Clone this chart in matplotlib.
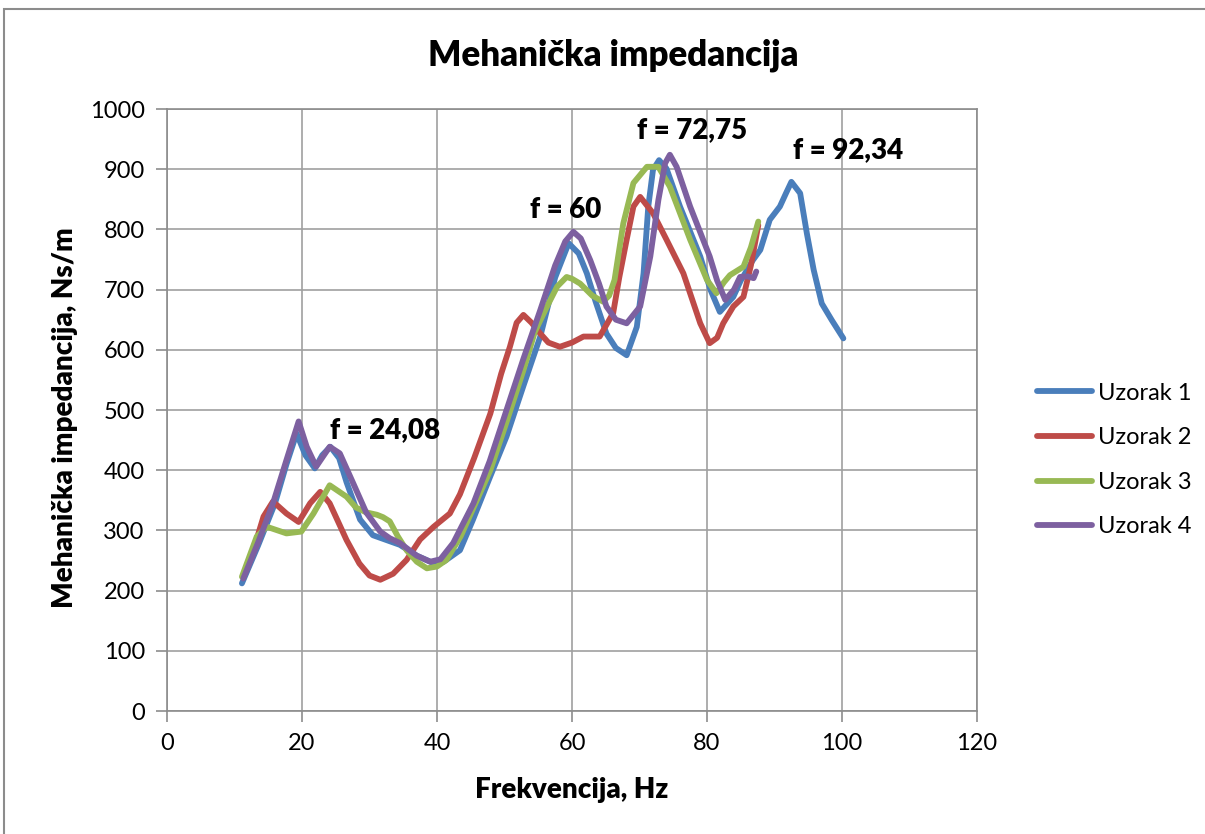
import matplotlib.pyplot as plt
from matplotlib.patches import Rectangle

plt.rcParams['font.family'] = ['Lato', 'DejaVu Sans']

# Uzorak 1
x1 = [11.1, 13.5, 16, 17.7, 19.2, 20.5, 21.9, 23, 24.2, 25.5, 26.6, 28.6, 30.5, 32.5, 34.5,
      37, 39.4, 41, 43.4, 45.3, 47.9, 50.3, 52.8, 55.3, 57.5, 59.5, 61, 62.2, 63.5, 65.1,
      66.5, 68.1, 69.6, 70.6, 71.3, 72, 72.9, 74, 76, 79, 80.5, 81.9, 83.9, 85, 86.8,
      87.9, 89.3, 90.8, 91.7, 92.5, 93.8, 94.8, 95.8, 97, 98.5, 100.2]
y1 = [212, 275, 345, 410, 461, 425, 403, 425, 439, 420, 380, 318, 292, 284, 276,
      258, 246, 248, 267, 317, 390, 456, 540, 622, 720, 777, 760, 727, 680, 627,
      603, 591, 638, 727, 838, 899, 915, 901, 838, 755, 700, 663, 688, 715, 749,
      766, 816, 838, 860, 879, 860, 793, 733, 677, 649, 619]

# Uzorak 2
x2 = [11.3, 13, 14.3, 15.7, 17.7, 19.5, 21.2, 22.7, 24.1, 26.6, 28.5, 30, 31.6, 33.5,
      35.5, 37.5, 39.5, 41.9, 43.4, 45.5, 47.9, 49.5, 50.8, 51.8, 52.8, 54, 55.3, 56.5,
      58.2, 60, 61.7, 63, 64.1, 66.1, 67, 68.1, 69.1, 70.1, 72, 74, 76.5, 79, 80.4,
      81.5, 82.4, 83.9, 85.4, 86.5, 87.6]
y2 = [223, 275, 323, 348, 328, 314, 345, 364, 345, 284, 245, 225, 218, 228,
      251, 285, 306, 328, 360, 420, 494, 560, 605, 645, 658, 645, 627, 612,
      605, 612, 622, 622, 622, 661, 720, 783, 838, 854, 827, 783, 727, 644, 611,
      620, 644, 672, 688, 740, 807]

# Uzorak 3
x3 = [11.1, 13.3, 14.8, 17.7, 19.9, 21.7, 24.1, 26.6, 28, 29.5, 31.1, 32, 33, 34.2,
      35.5, 37, 38.5, 40, 41.4, 43.5, 45.5, 47.9, 50.3, 52.8, 54.5, 56.3, 57.8, 59.2,
      60, 61.2, 63, 64.6, 65.5, 66.3, 67.6, 69.1, 71.1, 72.8, 74.5, 77.5, 80, 81.4,
      82.5, 83.4, 85.4, 86.5, 87.6]
y3 = [223, 290, 306, 295, 298, 328, 375, 356, 338, 330, 326, 322, 315, 290,
      267, 248, 237, 240, 251, 290, 340, 400, 480, 566, 630, 672, 705, 721,
      718, 710, 690, 680, 690, 716, 810, 877, 904, 904, 871, 783, 716, 694,
      712, 724, 738, 770, 813]

# Uzorak 4
x4 = [11.3, 13.5, 15.7, 17.7, 19.5, 20.7, 22.1, 24.1, 25.6, 27.6, 29.5, 31.6, 33, 34.5,
      37, 39, 40.5, 42.4, 45.4, 47.8, 50.3, 52.8, 55.3, 57.5, 59, 60.2, 61.3, 62.7, 64,
      65.1, 66.5, 68.1, 70.1, 71.6, 72.8, 73.8, 74.5, 75.5, 77.5, 80.4, 81.5, 82.7,
      84, 84.9, 86, 86.9, 87.3]
y4 = [220, 280, 345, 417, 481, 439, 406, 439, 428, 378, 330, 298, 287, 279,
      258, 248, 252, 279, 345, 415, 500, 585, 666, 740, 780, 796, 785, 749, 710,
      672, 650, 644, 672, 755, 849, 910, 924, 904, 838, 755, 715, 683,
      700, 721, 722, 719, 730]

series = [
    ("Uzorak 1", x1, y1, "#4a7ebb"),
    ("Uzorak 2", x2, y2, "#be4b48"),
    ("Uzorak 3", x3, y3, "#98b954"),
    ("Uzorak 4", x4, y4, "#7d60a0"),
]

labels = [("f = 24,08", 24.1, 467), ("f = 60", 53.8, 832),
          ("f = 72,75", 69.6, 965), ("f = 92,34", 92.7, 932)]

W, H = 1205, 834
fig = plt.figure(figsize=(W / 100, H / 100), dpi=100)
fig.patches.append(Rectangle((4 / W, -0.1), 1.2, 1 - 9 / H + 0.1,
                             transform=fig.transFigure, fill=False,
                             edgecolor="#8c8c8c", linewidth=1.5))
ax = fig.add_axes([167 / W, 1 - 711 / H, 810 / W, 602 / H])

for name, xs, ys, c in series:
    ax.plot(xs, ys, color=c, linewidth=4.2, label=name,
            solid_joinstyle="round", solid_capstyle="round")

for txt, tx, ty in labels:
    ax.text(tx, ty, txt, fontsize=20, fontweight="heavy", va="center", ha="left")

ax.set_xlim(0, 120)
ax.set_ylim(0, 1000)
ax.set_xticks(range(0, 121, 20))
ax.set_yticks(range(0, 1001, 100))
ax.grid(True, color="#a0a0a0", linewidth=1.2)
ax.set_axisbelow(True)
for s in ax.spines.values():
    s.set_color("#8c8c8c")
    s.set_linewidth(1.2)
ax.tick_params(colors="#8c8c8c", labelcolor="black", labelsize=17,
               length=8, width=1.2, pad=8)

fig.text(613 / W, 1 - 55 / H, "Mehanička impedancija", fontsize=25,
         fontweight="heavy", ha="center", va="center")
fig.text(572 / W, 1 - 790 / H, "Frekvencija, Hz", fontsize=20,
         fontweight="heavy", ha="center", va="center")
fig.text(65 / W, 1 - 418 / H, "Mehanička impedancija, Ns/m", fontsize=20,
         fontweight="heavy", ha="center", va="center", rotation=90)

ax.legend(loc="center left", bbox_to_anchor=(1037 / W, 1 - 460 / H),
          bbox_transform=fig.transFigure, frameon=False, borderaxespad=0,
          borderpad=0, fontsize=17, handlelength=2.35, labelspacing=1.0,
          handletextpad=0.25)

fig.savefig("out.png", dpi=100)
